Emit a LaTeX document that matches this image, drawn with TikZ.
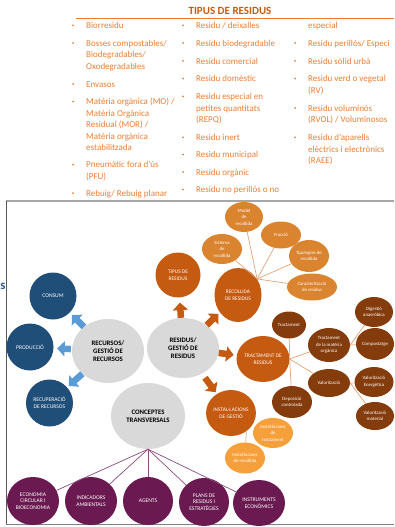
\documentclass[tikz,border=0pt]{standalone}
\usepackage{fontspec}
\setmainfont{Carlito}
\usetikzlibrary{shapes.geometric,arrows.meta}

\definecolor{listorange}{HTML}{ED7D31}
\definecolor{titleorange}{HTML}{C55A11}
\definecolor{bluedark}{HTML}{1F4E79}
\definecolor{graylight}{HTML}{D9D9D9}
\definecolor{orangedark}{HTML}{C55A11}
\definecolor{orangemid}{HTML}{DA8430}
\definecolor{orangelight}{HTML}{F6A03C}
\definecolor{browndark}{HTML}{843C0C}
\definecolor{purpledark}{HTML}{6A1A50}
\definecolor{arrowblue}{HTML}{5B9BD5}
\definecolor{linkorange}{HTML}{E2A478}
\definecolor{linkpurple}{HTML}{8C4A7E}
\definecolor{headblue}{HTML}{2E5C8A}

\begin{document}
\begin{tikzpicture}[x=1pt,y=-1pt]
    % Define styles for texts and shapes
    \tikzstyle{listitem} = [anchor=north west, inner sep=0pt, align=left, text=listorange, font=\fontsize{9}{11.5}\selectfont]
    \tikzstyle{bluenode} = [circle, fill=bluedark, minimum size=47pt, inner sep=0pt, align=center, text=white, font=\fontsize{5.6}{6.8}\selectfont]
    \tikzstyle{graynode} = [ellipse, fill=graylight, inner sep=0pt, align=center, font=\bfseries\fontsize{6.8}{8.3}\selectfont]
    \tikzstyle{mainorange} = [ellipse, fill=orangedark, inner sep=0pt, align=center, text=white, font=\fontsize{5.4}{6.8}\selectfont]
    \tikzstyle{suborange} = [ellipse, fill=orangemid, inner sep=0pt, align=center, text=white, font=\fontsize{4.8}{6.6}\selectfont]
    \tikzstyle{subbrown} = [ellipse, fill=browndark, inner sep=0pt, align=center, text=white, font=\fontsize{4.8}{6.6}\selectfont]
    \tikzstyle{sublight} = [ellipse, fill=orangelight, inner sep=0pt, align=center, text=white, font=\fontsize{4.8}{6.6}\selectfont]
    \tikzstyle{purplenode} = [ellipse, fill=purpledark, inner sep=0pt, align=center, text=white, font=\fontsize{5.6}{6.8}\selectfont]
    \tikzstyle{bluearrow} = [draw=arrowblue, line width=6.5pt, -{Triangle[length=7.5pt,width=15pt]}]
    \tikzstyle{orangearrow} = [draw=orangedark, line width=6.5pt, -{Triangle[length=7.5pt,width=15pt]}]
    \tikzstyle{orangeline} = [draw=linkorange, line width=0.7pt]
    \tikzstyle{purpleline} = [draw=linkpurple, line width=0.7pt]

    \useasboundingbox (0,0) rectangle (394,527);

    % Title and list of waste types
    \node[anchor=base, inner sep=0pt, text=titleorange, font=\bfseries\fontsize{11}{12}\selectfont] (titol) at (230,15) {TIPUS DE RESIDUS};
    \draw[listorange, line width=1.1pt] (76,18.5) -- (394,18.5);

    \node[listitem] (biorresidu) at (86,20.3) {\strut Biorresidu};
    \node[listitem] (bosses) at (86,38) {\strut Bosses compostables/\\Biodegradables/\\Oxodegradables};
    \node[listitem] (envasos) at (86,79) {\strut Envasos};
    \node[listitem] (materia) at (86,96.5) {\strut Matèria orgànica (MO) /\\Matèria Orgànica\\Residual (MOR) /\\Matèria orgànica\\estabilitzada};
    \node[listitem] (pneumatic) at (86,159.5) {\strut Pneumàtic fora d’ús\\(PFU)};
    \node[listitem] (rebuig) at (86,188) {\strut Rebuig/ Rebuig planar};

    \node[listitem] (deixalles) at (196,20.3) {\strut Residu / deixalles};
    \node[listitem] (biodegradable) at (196,38) {\strut Residu biodegradable};
    \node[listitem] (comercial) at (196,55.8) {\strut Residu comercial};
    \node[listitem] (domestic) at (196,73.5) {\strut Residu domèstic};
    \node[listitem] (repq) at (196,91.3) {\strut Residu especial en\\petites quantitats\\(REPQ)};
    \node[listitem] (inert) at (196,132.3) {\strut Residu inert};
    \node[listitem] (municipal) at (196,149.5) {\strut Residu municipal};
    \node[listitem] (organic) at (196,167) {\strut Residu orgànic};
    \node[listitem] (noperillos) at (196,184.7) {\strut Residu no perillós o no};

    \node[listitem] (especial) at (308,20.3) {\strut especial};
    \node[listitem] (perillos) at (308,38) {\strut Residu perillós/ Especi};
    \node[listitem] (solid) at (308,55.8) {\strut Residu sòlid urbà};
    \node[listitem] (verd) at (308,73.5) {\strut Residu verd o vegetal\\(RV)};
    \node[listitem] (voluminos) at (308,103) {\strut Residu voluminós\\(RVOL) / Voluminosos};
    \node[listitem] (raee) at (308,132.3) {\strut Residu d’aparells\\elèctrics i electrònics\\(RAEE)};

    % Bullets
    \fill[listorange] (73,25.3) circle (1) (73,43) circle (1) (73,84) circle (1)
        (73,101.5) circle (1) (73,164.5) circle (1) (73,193) circle (1)
        (183,25.3) circle (1) (183,43) circle (1) (183,60.8) circle (1)
        (183,78.5) circle (1) (183,96.3) circle (1) (183,137.3) circle (1)
        (183,154.5) circle (1) (183,172) circle (1) (183,189.7) circle (1)
        (295,43) circle (1) (295,60.8) circle (1) (295,78.5) circle (1)
        (295,108) circle (1) (295,137.3) circle (1);

    % Frame of the diagram
    \draw[color=gray!70, line width=1.6pt] (6,201) -- (394,201);
    \draw[color=black!65, line width=1pt] (6.5,201) -- (6.5,524.5);
    \draw[color=black!50, line width=1.5pt] (6,524.5) -- (394,524.5);
    \node[anchor=base west, inner sep=0pt, text=headblue, font=\bfseries\fontsize{13}{13}\selectfont] (cut) at (0.2,289.5) {s};

    % Central nodes
    \node[graynode, minimum width=72pt, minimum height=64pt] (recursos) at (108,351) {RECURSOS/\\GESTIÓ DE\\RECURSOS};
    \node[graynode, minimum width=72pt, minimum height=60pt] (residus) at (183,348) {RESIDUS/\\GESTIÓ DE\\RESIDUS};
    \node[graynode, minimum width=74pt, minimum height=66pt] (conceptes) at (148,416) {CONCEPTES\\TRANSVERSALS};

    % Resources
    \node[bluenode] (consum) at (53,296) {CONSUM};
    \node[bluenode] (produccio) at (30,347) {PRODUCCIÓ};
    \node[bluenode] (recuperacio) at (49.5,403) {RECUPERACIÓ\\DE RECURSOS};

    % Waste management
    \node[mainorange, minimum width=45pt, minimum height=45pt] (tipus) at (178,275) {TIPUS DE\\RESIDUS};
    \node[mainorange, minimum width=47pt, minimum height=54pt] (recollida) at (238,295) {RECOLLIDA\\DE RESIDUS};
    \node[mainorange, minimum width=48pt, minimum height=46pt] (tractament) at (263,359) {TRACTAMENT DE\\RESIDUS};
    \node[mainorange, minimum width=47pt, minimum height=46pt] (instal) at (231,413) {INSTAL·LACIONS\\DE GESTIÓ};

    % Collection
    \node[suborange, minimum width=38pt, minimum height=30pt] (model) at (244,217) {Model\\de\\recollida};
    \node[suborange, minimum width=40pt, minimum height=27pt] (fraccio) at (281,235) {Fracció};
    \node[suborange, minimum width=40pt, minimum height=30pt] (sistema) at (222,249) {Sistema\\de\\recollida};
    \node[suborange, minimum width=40pt, minimum height=32pt] (tipologies) at (309,256) {Tipologies de\\recollida};
    \node[suborange, minimum width=50pt, minimum height=27pt] (caracteritzacio) at (312,287) {Caracterització\\de residus};

    % Treatment
    \node[subbrown, minimum width=34pt, minimum height=27pt] (tract) at (289,325) {Tractament};
    \node[subbrown, minimum width=42pt, minimum height=34pt] (materiaorg) at (329,345) {Tractament\\de la matèria\\orgànica};
    \node[subbrown, minimum width=42pt, minimum height=28pt] (valoritzacio) at (329,383) {Valorització};
    \node[subbrown, minimum width=40pt, minimum height=32pt] (deposicio) at (292,402) {Deposició\\controlada};
    \node[subbrown, minimum width=38pt, minimum height=30pt] (digestio) at (374,312) {Digestió\\anaeròbica};
    \node[subbrown, minimum width=38pt, minimum height=32pt] (compostatge) at (375,344) {Compostatge};
    \node[subbrown, minimum width=39pt, minimum height=30pt] (energetica) at (374,382) {Valorització\\Energètica};
    \node[subbrown, minimum width=38pt, minimum height=28pt] (material) at (375,416) {Valorització\\material};

    % Facilities
    \node[sublight, minimum width=40pt, minimum height=30pt] (insttract) at (273,433) {Instal·lacions\\de\\tractament};
    \node[sublight, minimum width=40pt, minimum height=31pt] (instrec) at (245,458) {Instal·lacions\\de recollida};

    % Cross-cutting concepts
    \node[purplenode, minimum width=52pt, minimum height=48pt] (economia) at (33,501) {ECONOMIA\\CIRCULAR I\\BIOECONOMIA};
    \node[purplenode, minimum width=52pt, minimum height=48pt] (indicadors) at (91,501) {INDICADORS\\AMBIENTALS};
    \node[purplenode, minimum width=50pt, minimum height=48pt] (agents) at (148,501) {AGENTS};
    \node[purplenode, minimum width=50pt, minimum height=48pt] (plans) at (204,502) {PLANS DE\\RESIDUS I\\ESTRATÈGIES};
    \node[purplenode, minimum width=52pt, minimum height=46pt] (instruments) at (259,503) {INSTRUMENTS\\ECONÒMICS};

    % Draw the block arrows
    \draw[bluearrow, shorten >=3pt] (recursos) -- (consum);
    \draw[bluearrow, shorten <=1pt, shorten >=3.5pt] (recursos) -- (produccio);
    \draw[bluearrow, shorten >=2pt] (recursos) -- (recuperacio);
    \draw[orangearrow, shorten >=5pt] (residus) -- (tipus);
    \draw[orangearrow, shorten >=2pt] (residus) -- (recollida);
    \draw[orangearrow, shorten >=3pt] (residus) -- (tractament);
    \draw[orangearrow, shorten <=5pt, shorten >=2pt] (residus) -- (instal);

    % Draw the links
    \coordinate (rhub) at (recollida.40);
    \draw[orangeline] (rhub) -- (model);
    \draw[orangeline] (rhub) -- (fraccio);
    \draw[orangeline] (rhub) -- (sistema);
    \draw[orangeline] (rhub) -- (tipologies);
    \draw[orangeline] (rhub) -- (caracteritzacio);

    \draw[orangeline] (tractament.east) -- (tract);
    \draw[orangeline] (tractament.east) -- (materiaorg);
    \draw[orangeline] (tractament.east) -- (valoritzacio);
    \draw[orangeline] (tractament.east) -- (deposicio);
    \draw[orangeline] (materiaorg.east) -- (digestio);
    \draw[orangeline] (materiaorg.east) -- (compostatge);
    \draw[orangeline] (valoritzacio.east) -- (energetica);
    \draw[orangeline] (valoritzacio.east) -- (material);

    \draw[orangeline] (instal.-50) -- (instrec);

    \draw[purpleline] (conceptes.south) -- (economia);
    \draw[purpleline] (conceptes.south) -- (indicadors);
    \draw[purpleline] (conceptes.south) -- (agents);
    \draw[purpleline] (conceptes.south) -- (plans);
    \draw[purpleline] (conceptes.south) -- (instruments);

\end{tikzpicture}
\end{document}
